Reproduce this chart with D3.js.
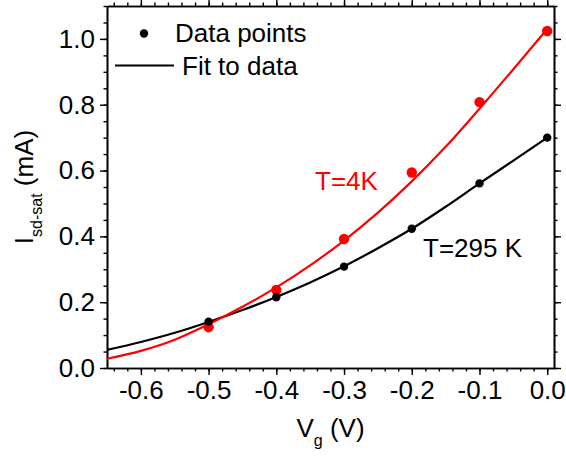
<!DOCTYPE html>
<html>
<head>
<meta charset="utf-8">
<script src="https://cdn.jsdelivr.net/npm/d3@7"></script>
<style>
  body { margin: 0; background: #fff; }
  text { font-family: "Liberation Sans", Arial, sans-serif; }
</style>
</head>
<body>
<svg id="chart" width="566" height="456"></svg>
<script>
// gate voltage of the measured points
var vg = [-0.5, -0.4, -0.3, -0.2, -0.1, 0.0];
// measured saturation current (mA)
var data295 = [0.141, 0.215, 0.308, 0.423, 0.561, 0.700];
var data4 = [0.124, 0.237, 0.392, 0.594, 0.808, 1.024];

// fit curves
var fitVg = [-0.65, -0.6, -0.55, -0.5, -0.45, -0.4, -0.35, -0.3, -0.25, -0.2, -0.15, -0.1, -0.05, 0.0];
var fit295 = [0.055, 0.079, 0.107, 0.140, 0.176, 0.216, 0.260, 0.309, 0.364, 0.423, 0.490, 0.561, 0.630, 0.700];
var fit4 = [0.028, 0.052, 0.086, 0.133, 0.186, 0.245, 0.312, 0.387, 0.472, 0.567, 0.672, 0.788, 0.908, 1.030];

var xTicks = [-0.6, -0.5, -0.4, -0.3, -0.2, -0.1, 0.0];
var yTicks = [0.0, 0.2, 0.4, 0.6, 0.8, 1.0];

var svg = d3.select('#chart');
var pLeft = 107, pRight = 554, pTop = 6, pBottom = 368;
var fs = '26px', fsSub = '16px';

var x = d3.scaleLinear().domain([-0.65, 0.01]).range([pLeft, pRight]);
var y = d3.scaleLinear().domain([0, 1.1]).range([pBottom, pTop]);

var fmt = function(d) { return d.toFixed(1); };
var xMinor = d3.range(-64, 1, 2).map(function(d) { return d / 100; });
var yMinor = d3.range(0, 111, 5).map(function(d) { return d / 100; });

function styleAxis(g) {
  g.select('.domain').attr('stroke', '#000').attr('stroke-width', 1.6);
  g.selectAll('.tick line').attr('stroke', '#000').attr('stroke-width', 1.4);
  g.selectAll('.tick text').attr('fill', '#000').style('font-size', fs)
    .style('font-family', '"Liberation Sans", Arial, sans-serif');
}

// minor ticks
svg.append('g').attr('transform', 'translate(0,' + pBottom + ')')
  .call(d3.axisBottom(x).tickValues(xMinor).tickSize(3.5).tickFormat('').tickSizeOuter(0)).call(styleAxis);
svg.append('g').attr('transform', 'translate(0,' + pTop + ')')
  .call(d3.axisTop(x).tickValues(xMinor).tickSize(3.5).tickFormat('').tickSizeOuter(0)).call(styleAxis);
svg.append('g').attr('transform', 'translate(' + pLeft + ',0)')
  .call(d3.axisLeft(y).tickValues(yMinor).tickSize(3.5).tickFormat('').tickSizeOuter(0)).call(styleAxis);
svg.append('g').attr('transform', 'translate(' + pRight + ',0)')
  .call(d3.axisRight(y).tickValues(yMinor).tickSize(3.5).tickFormat('').tickSizeOuter(0)).call(styleAxis);

// major ticks
svg.append('g').attr('transform', 'translate(0,' + pBottom + ')')
  .call(d3.axisBottom(x).tickValues(xTicks).tickSize(7).tickPadding(6).tickFormat(fmt).tickSizeOuter(0)).call(styleAxis);
svg.append('g').attr('transform', 'translate(0,' + pTop + ')')
  .call(d3.axisTop(x).tickValues(xTicks).tickSize(7).tickFormat('').tickSizeOuter(0)).call(styleAxis);
svg.append('g').attr('transform', 'translate(' + pLeft + ',0)')
  .call(d3.axisLeft(y).tickValues(yTicks).tickSize(7).tickPadding(5).tickFormat(fmt).tickSizeOuter(0)).call(styleAxis);
svg.append('g').attr('transform', 'translate(' + pRight + ',0)')
  .call(d3.axisRight(y).tickValues(yTicks).tickSize(7).tickFormat('').tickSizeOuter(0)).call(styleAxis);

// fit curves
var line = d3.line()
  .x(function(d) { return x(d[0]); })
  .y(function(d) { return y(d[1]); })
  .curve(d3.curveMonotoneX);

svg.append('path')
  .datum(d3.zip(fitVg, fit295))
  .attr('d', line)
  .attr('fill', 'none').attr('stroke', '#000').attr('stroke-width', 2.2);
svg.append('path')
  .datum(d3.zip(fitVg, fit4))
  .attr('d', line)
  .attr('fill', 'none').attr('stroke', '#ff0000').attr('stroke-width', 2.2);

// points
svg.selectAll('circle.red').data(d3.zip(vg, data4)).enter()
  .append('circle').attr('class', 'red')
  .attr('cx', function(d) { return x(d[0]); })
  .attr('cy', function(d) { return y(d[1]); })
  .attr('r', 5.2).attr('fill', '#ff0000');
svg.selectAll('circle.black').data(d3.zip(vg, data295)).enter()
  .append('circle').attr('class', 'black')
  .attr('cx', function(d) { return x(d[0]); })
  .attr('cy', function(d) { return y(d[1]); })
  .attr('r', 4.2).attr('fill', '#000');

// curve labels
svg.append('text').attr('x', 315).attr('y', 190).attr('fill', '#ff0000')
  .style('font-size', fs).text('T=4K');
svg.append('text').attr('x', 423).attr('y', 257).attr('fill', '#000')
  .style('font-size', fs).text('T=295 K');

// legend
svg.append('circle').attr('cx', 144).attr('cy', 33.5).attr('r', 4.2).attr('fill', '#000');
svg.append('text').attr('x', 175).attr('y', 42).style('font-size', fs).text('Data points');
svg.append('line').attr('x1', 115).attr('x2', 174).attr('y1', 65.5).attr('y2', 65.5)
  .attr('stroke', '#000').attr('stroke-width', 2.2);
svg.append('text').attr('x', 182).attr('y', 75).style('font-size', fs).text('Fit to data');

// axis titles
var xt = svg.append('text').attr('x', (pLeft + pRight) / 2).attr('y', 437)
  .attr('text-anchor', 'middle').style('font-size', fs);
xt.append('tspan').text('V');
xt.append('tspan').attr('dy', 9).style('font-size', fsSub).text('g');
xt.append('tspan').attr('dy', -9).text(' (V)');

var yt = svg.append('text')
  .attr('transform', 'translate(33,' + (pTop + pBottom) / 2 + ') rotate(-90)')
  .attr('text-anchor', 'middle').style('font-size', fs);
yt.append('tspan').text('I');
yt.append('tspan').attr('dy', 9).style('font-size', fsSub).text('sd-sat');
yt.append('tspan').attr('dy', -9).text(' (mA)');
</script>
</body>
</html>
